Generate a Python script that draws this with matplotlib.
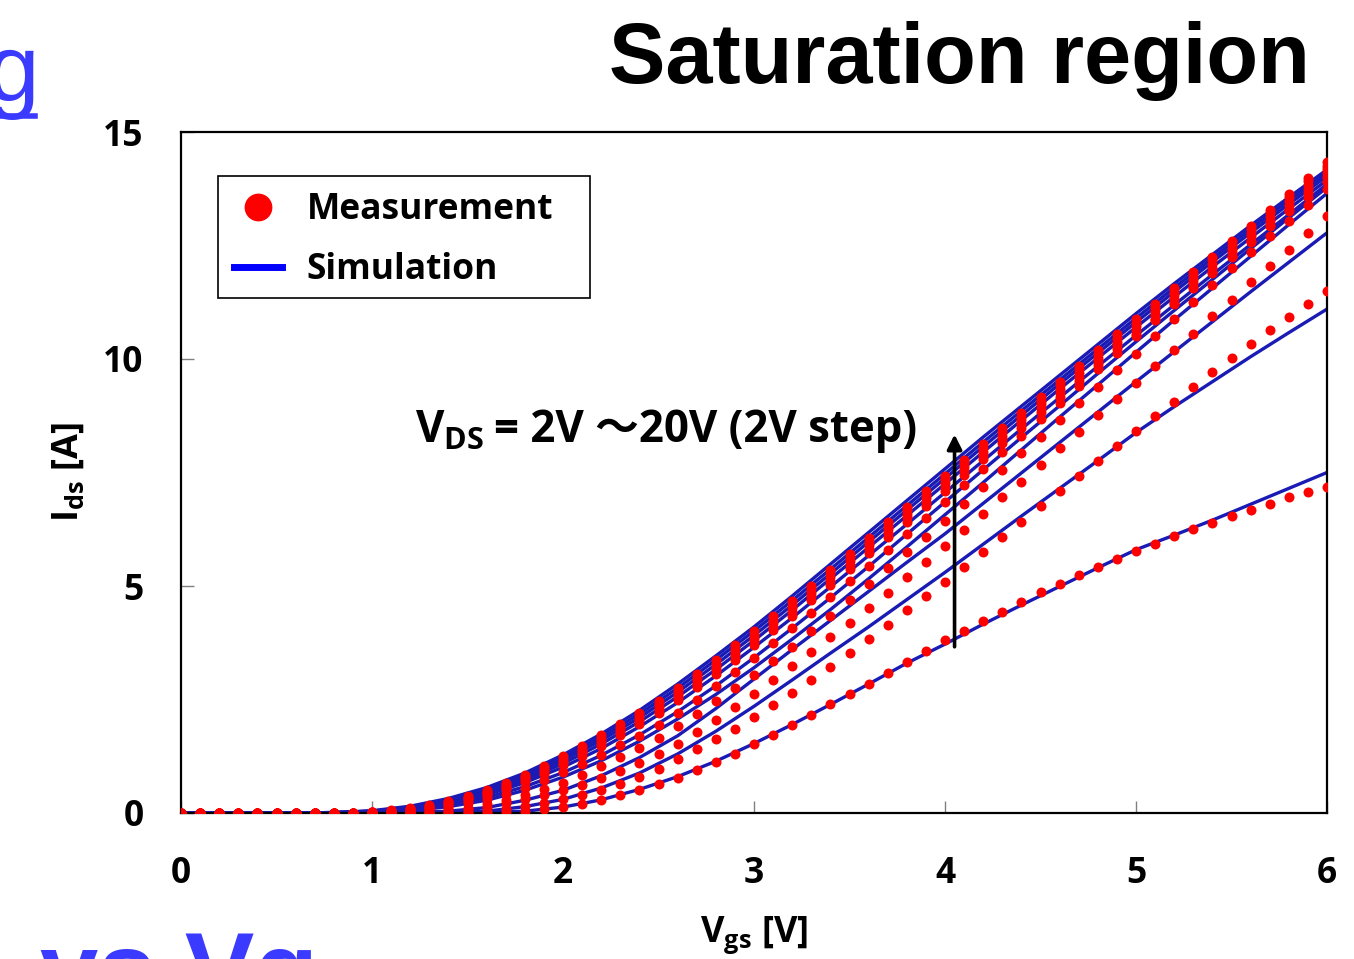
import numpy as np
import matplotlib
matplotlib.use("Agg")
import matplotlib.pyplot as plt
from matplotlib.lines import Line2D
from matplotlib.patches import Rectangle

plt.rcParams['font.family'] = ['Open Sans', 'Noto Sans CJK JP', 'DejaVu Sans']
plt.rcParams['font.weight'] = 'bold'
plt.rcParams['mathtext.fontset'] = 'custom'
plt.rcParams['mathtext.rm'] = 'Open Sans:bold'
plt.rcParams['mathtext.it'] = 'Open Sans:bold'
plt.rcParams['mathtext.bf'] = 'Open Sans:bold'

# gate voltage grids
vgs_meas = np.round(np.arange(0, 6.01, 0.1), 1)
vgs_sim = np.round(np.arange(0, 6.01, 0.2), 1)
vds_steps = [2, 4, 6, 8, 10, 12, 14, 16, 18, 20]

# measured Ids [A], one list per Vds (Vgs = 0.0 ... 6.0, 0.1 V step)
meas_2 = [0, 0, 0, 0, 0, 0, 0, 0, 0, 0,
          0, 0, 0, 0, 0, 0, 0.01, 0.02, 0.04, 0.08,
          0.13, 0.19, 0.28, 0.39, 0.51, 0.64, 0.78, 0.95, 1.13, 1.31,
          1.51, 1.72, 1.94, 2.16, 2.39, 2.62, 2.85, 3.09, 3.33, 3.57,
          3.80, 4.01, 4.23, 4.43, 4.65, 4.87, 5.04, 5.24, 5.41, 5.59,
          5.77, 5.93, 6.10, 6.25, 6.39, 6.54, 6.68, 6.81, 6.95, 7.07,
          7.19]
meas_4 = [0, 0, 0, 0, 0, 0, 0, 0, 0, 0,
          0, 0, 0, 0, 0.01, 0.02, 0.05, 0.09, 0.15, 0.22,
          0.30, 0.39, 0.51, 0.64, 0.80, 0.98, 1.18, 1.40, 1.62, 1.86,
          2.11, 2.38, 2.65, 2.94, 3.22, 3.53, 3.84, 4.15, 4.47, 4.78,
          5.09, 5.42, 5.74, 6.07, 6.42, 6.76, 7.09, 7.42, 7.75, 8.08,
          8.41, 8.74, 9.06, 9.38, 9.71, 10.02, 10.33, 10.63, 10.93, 11.22,
          11.50]
meas_6 = [0, 0, 0, 0, 0, 0, 0, 0, 0, 0,
          0, 0, 0.01, 0.02, 0.04, 0.08, 0.14, 0.21, 0.30, 0.40,
          0.50, 0.62, 0.76, 0.92, 1.10, 1.30, 1.52, 1.79, 2.05, 2.33,
          2.62, 2.93, 3.24, 3.55, 3.87, 4.19, 4.52, 4.85, 5.19, 5.53,
          5.88, 6.24, 6.59, 6.95, 7.30, 7.67, 8.03, 8.40, 8.77, 9.11,
          9.48, 9.85, 10.20, 10.56, 10.95, 11.30, 11.69, 12.05, 12.41, 12.78,
          13.15]
meas_8 = [0, 0, 0, 0, 0, 0, 0, 0, 0, 0,
          0, 0.01, 0.02, 0.05, 0.08, 0.12, 0.19, 0.28, 0.39, 0.52,
          0.67, 0.84, 1.03, 1.23, 1.44, 1.66, 1.91, 2.18, 2.46, 2.75,
          3.05, 3.35, 3.66, 4.00, 4.34, 4.69, 5.04, 5.39, 5.74, 6.09,
          6.44, 6.81, 7.18, 7.55, 7.92, 8.29, 8.66, 9.02, 9.39, 9.75,
          10.12, 10.50, 10.88, 11.26, 11.63, 12.00, 12.36, 12.71, 13.05, 13.40,
          13.74]
meas_10 = [0, 0, 0, 0, 0, 0, 0, 0, 0, 0,
           0.01, 0.02, 0.04, 0.08, 0.14, 0.21, 0.30, 0.42, 0.56, 0.72,
           0.90, 1.08, 1.28, 1.49, 1.70, 1.93, 2.20, 2.49, 2.79, 3.10,
           3.41, 3.74, 4.07, 4.41, 4.75, 5.10, 5.45, 5.79, 6.14, 6.50,
           6.86, 7.22, 7.58, 7.95, 8.31, 8.68, 9.04, 9.41, 9.77, 10.14,
           10.50, 10.86, 11.21, 11.56, 11.90, 12.24, 12.58, 12.92, 13.25, 13.57,
           13.90]
meas_12 = [0, 0, 0, 0, 0, 0, 0, 0, 0, 0,
           0.01, 0.03, 0.06, 0.11, 0.18, 0.27, 0.38, 0.52, 0.68, 0.86,
           1.05, 1.26, 1.48, 1.71, 1.95, 2.20, 2.48, 2.77, 3.07, 3.38,
           3.70, 4.02, 4.35, 4.69, 5.03, 5.38, 5.73, 6.08, 6.42, 6.76,
           7.10, 7.45, 7.79, 8.14, 8.48, 8.83, 9.17, 9.52, 9.86, 10.21,
           10.55, 10.89, 11.23, 11.58, 11.92, 12.26, 12.61, 12.95, 13.30, 13.65,
           14.00]
meas_14 = [0, 0, 0, 0, 0, 0, 0, 0, 0, 0,
           0.02, 0.04, 0.07, 0.12, 0.20, 0.30, 0.41, 0.56, 0.72, 0.91,
           1.10, 1.32, 1.54, 1.78, 2.02, 2.27, 2.55, 2.85, 3.15, 3.46,
           3.78, 4.10, 4.43, 4.77, 5.12, 5.47, 5.82, 6.17, 6.51, 6.85,
           7.19, 7.54, 7.88, 8.23, 8.57, 8.92, 9.26, 9.61, 9.95, 10.30,
           10.64, 10.98, 11.32, 11.67, 12.01, 12.35, 12.70, 13.05, 13.40, 13.75,
           14.10]
meas_16 = [0, 0, 0, 0, 0, 0, 0, 0, 0, 0,
           0.02, 0.04, 0.08, 0.14, 0.22, 0.32, 0.44, 0.59, 0.76, 0.95,
           1.15, 1.37, 1.60, 1.84, 2.08, 2.33, 2.62, 2.92, 3.22, 3.53,
           3.85, 4.18, 4.51, 4.85, 5.20, 5.55, 5.90, 6.25, 6.59, 6.93,
           7.27, 7.62, 7.96, 8.31, 8.65, 9.00, 9.34, 9.69, 10.03, 10.38,
           10.72, 11.06, 11.40, 11.75, 12.09, 12.43, 12.78, 13.13, 13.48, 13.83,
           14.18]
meas_18 = [0, 0, 0, 0, 0, 0, 0, 0, 0, 0,
           0.02, 0.05, 0.09, 0.15, 0.24, 0.34, 0.47, 0.62, 0.80, 0.99,
           1.20, 1.42, 1.66, 1.90, 2.14, 2.40, 2.69, 2.99, 3.29, 3.61,
           3.93, 4.26, 4.59, 4.93, 5.28, 5.63, 5.98, 6.33, 6.67, 7.01,
           7.35, 7.70, 8.04, 8.39, 8.73, 9.08, 9.42, 9.77, 10.11, 10.46,
           10.80, 11.14, 11.48, 11.83, 12.17, 12.51, 12.86, 13.21, 13.56, 13.91,
           14.26]
meas_20 = [0, 0, 0, 0, 0, 0, 0, 0, 0, 0,
           0.03, 0.06, 0.10, 0.17, 0.26, 0.37, 0.50, 0.66, 0.84, 1.04,
           1.25, 1.48, 1.72, 1.96, 2.21, 2.47, 2.76, 3.06, 3.37, 3.69,
           4.01, 4.34, 4.67, 5.01, 5.36, 5.71, 6.06, 6.41, 6.75, 7.09,
           7.43, 7.78, 8.12, 8.47, 8.81, 9.16, 9.50, 9.85, 10.19, 10.54,
           10.88, 11.22, 11.56, 11.91, 12.25, 12.59, 12.94, 13.29, 13.64, 13.99,
           14.34]

# simulated Ids [A] (Vgs = 0.0 ... 6.0, 0.2 V step)
sim_2 = [0, 0, 0, 0, 0, 0, 0, 0, 0.01, 0.04,
         0.13, 0.29, 0.52, 0.80, 1.14, 1.53, 1.95, 2.39, 2.84, 3.30,
         3.72, 4.16, 4.58, 4.99, 5.40, 5.80, 6.12, 6.45, 6.80, 7.15,
         7.50]
sim_4 = [0, 0, 0, 0, 0, 0, 0, 0.01, 0.04, 0.14,
         0.30, 0.55, 0.88, 1.30, 1.80, 2.35, 2.93, 3.52, 4.10, 4.70,
         5.30, 5.92, 6.54, 7.15, 7.76, 8.38, 8.95, 9.50, 10.05, 10.58,
         11.10]
sim_6 = [0, 0, 0, 0, 0, 0, 0.01, 0.04, 0.12, 0.28,
         0.50, 0.82, 1.22, 1.70, 2.30, 2.95, 3.60, 4.24, 4.88, 5.52,
         6.15, 6.82, 7.49, 8.16, 8.83, 9.50, 10.16, 10.82, 11.48, 12.13,
         12.78]
sim_8 = [0, 0, 0, 0, 0, 0.01, 0.05, 0.14, 0.28, 0.50,
         0.79, 1.15, 1.58, 2.07, 2.61, 3.20, 3.83, 4.48, 5.16, 5.86,
         6.57, 7.28, 8.00, 8.72, 9.43, 10.15, 10.86, 11.56, 12.26, 12.96,
         13.65]
sim_10 = [0, 0, 0, 0, 0, 0.02, 0.07, 0.17, 0.34, 0.58,
          0.89, 1.27, 1.72, 2.23, 2.80, 3.42, 4.07, 4.74, 5.43, 6.14,
          6.85, 7.56, 8.27, 8.97, 9.68, 10.38, 11.07, 11.75, 12.43, 13.11,
          13.78]
sim_12 = [0, 0, 0, 0, 0, 0.03, 0.09, 0.21, 0.40, 0.67,
          1.01, 1.42, 1.90, 2.43, 3.02, 3.65, 4.30, 4.98, 5.67, 6.36,
          7.06, 7.76, 8.46, 9.15, 9.84, 10.52, 11.19, 11.86, 12.52, 13.18,
          13.85]
sim_14 = [0, 0, 0, 0, 0.01, 0.03, 0.10, 0.23, 0.44, 0.73,
          1.09, 1.52, 2.01, 2.56, 3.16, 3.80, 4.47, 5.16, 5.85, 6.55,
          7.25, 7.95, 8.65, 9.34, 10.02, 10.70, 11.37, 12.03, 12.67, 13.31,
          13.94]
sim_16 = [0, 0, 0, 0, 0.01, 0.04, 0.12, 0.26, 0.48, 0.78,
          1.16, 1.60, 2.10, 2.66, 3.27, 3.91, 4.58, 5.27, 5.97, 6.67,
          7.37, 8.07, 8.76, 9.45, 10.13, 10.81, 11.48, 12.14, 12.78, 13.41,
          14.03]
sim_18 = [0, 0, 0, 0, 0.01, 0.04, 0.13, 0.29, 0.52, 0.83,
          1.22, 1.67, 2.18, 2.75, 3.37, 4.01, 4.68, 5.37, 6.07, 6.77,
          7.47, 8.17, 8.86, 9.54, 10.22, 10.90, 11.57, 12.22, 12.86, 13.49,
          14.10]
sim_20 = [0, 0, 0, 0, 0.01, 0.05, 0.15, 0.32, 0.56, 0.88,
          1.28, 1.74, 2.26, 2.84, 3.46, 4.10, 4.78, 5.48, 6.18, 6.88,
          7.58, 8.28, 8.96, 9.64, 10.32, 11.00, 11.66, 12.30, 12.94, 13.56,
          14.17]

meas_curves = [meas_2, meas_4, meas_6, meas_8, meas_10,
               meas_12, meas_14, meas_16, meas_18, meas_20]
sim_curves = [sim_2, sim_4, sim_6, sim_8, sim_10,
              sim_12, sim_14, sim_16, sim_18, sim_20]

x_ticks = [0, 1, 2, 3, 4, 5, 6]
y_ticks = [0, 5, 10, 15]

# arrow marking increasing Vds
arrow_vgs = 4.05
arrow_from, arrow_to = 3.6, 8.4

W, H = 1354, 959
AX_L, AX_R, AX_T, AX_B = 181, 1327, 132, 813
fig = plt.figure(figsize=(W / 100, H / 100), dpi=100)
ax = fig.add_axes([AX_L / W, 1 - AX_B / H, (AX_R - AX_L) / W, (AX_B - AX_T) / H])


def to_axes(px, py):
    # pixel position in the picture -> axes fraction
    return (px - AX_L) / (AX_R - AX_L), (AX_B - py) / (AX_B - AX_T)


for ids in sim_curves:
    ax.plot(vgs_sim, ids, color='#1a1ab4', lw=2.4, zorder=2)
for ids in meas_curves:
    ax.plot(vgs_meas, ids, 'o', color='#ff0000', ms=7.2, mec='none', zorder=3)

ax.set_xlim(0, 6)
ax.set_ylim(0, 15)
ax.set_xticks(x_ticks)
ax.set_yticks(y_ticks)
ax.tick_params(axis='both', direction='in', length=9, width=1, color='#808080',
               labelsize=25.5)
ax.tick_params(axis='x', pad=31)
ax.tick_params(axis='y', pad=27)
for lab in ax.get_xticklabels() + ax.get_yticklabels():
    lab.set_fontweight('bold')
for s in ax.spines.values():
    s.set_linewidth(1.6)
    s.set_color('black')

ax.set_xlabel(r'$\mathrm{V_{gs}}$ [V]', fontsize=26, fontweight='bold', labelpad=16)
ax.set_ylabel(r'$\mathrm{I_{ds}}$ [A]', fontsize=26, fontweight='bold', labelpad=12)

# legend: content from matplotlib, box drawn to the reference size
handles = [Line2D([], [], ls='none', marker='o', ms=20, color='#ff0000', mec='none'),
           Line2D([], [], color='#0000ff', lw=5)]
ax.legend(handles, ['Measurement', 'Simulation'], loc='upper left',
          bbox_to_anchor=to_axes(218, 176), borderaxespad=0, frameon=False,
          prop={'size': 25.5, 'weight': 'bold'},
          handlelength=1.35, handletextpad=0.7,
          borderpad=0.45, labelspacing=0.68)
bx0, by0 = to_axes(218, 298)
bx1, by1 = to_axes(590, 176)
ax.add_patch(Rectangle((bx0, by0), bx1 - bx0, by1 - by0, transform=ax.transAxes,
                       fill=False, edgecolor='black', lw=1.2, zorder=5))

ax.annotate('', xy=(arrow_vgs, arrow_to), xytext=(arrow_vgs, arrow_from),
            arrowprops=dict(arrowstyle='-|>', color='black', lw=2.6,
                            mutation_scale=22))

fig.text(415 / W, 1 - 442 / H, r'$\mathrm{V_{DS}}$', fontsize=31.5, va='baseline')
fig.text(494 / W, 1 - 442 / H, '= 2V 〜20V (2V step)', fontsize=31.5,
         fontweight='bold', va='baseline', family=['Open Sans', 'Noto Sans CJK JP'])

fig.text(1310 / W, 1 - 83 / H, 'Saturation region', fontsize=61,
         family='Liberation Sans', weight='bold', ha='right', va='baseline')

# slide text cut off at the edges
fig.text(40 / W, 1 - 100 / H, 'g', fontsize=68, family='Liberation Sans',
         weight='normal', color='#3b3bff', ha='right', va='baseline')
fig.add_artist(Line2D([0, 35 / W], [1 - 116 / H, 1 - 116 / H], color='#3b3bff', lw=4))
fig.text(-60 / W, 1 - 1005 / H, 'A vs Vg', fontsize=75, family='Liberation Sans',
         weight='bold', color='#3b3bff', ha='left', va='baseline')

fig.savefig('out.png', dpi=100)
